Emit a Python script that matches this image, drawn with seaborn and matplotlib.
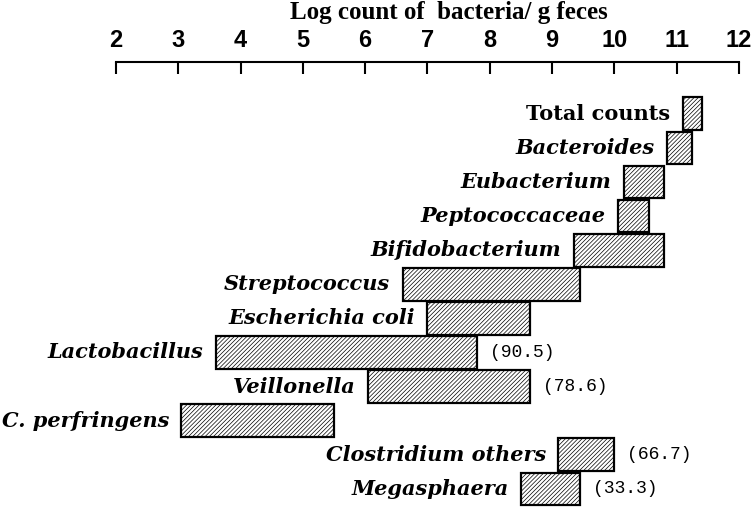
import matplotlib
matplotlib.use('Agg')
import matplotlib.pyplot as plt
import seaborn as sns
import pandas as pd

groups = ['Total counts', 'Bacteroides', 'Eubacterium', 'Peptococcaceae',
          'Bifidobacterium', 'Streptococcus', 'Escherichia coli', 'Lactobacillus',
          'Veillonella', 'C. perfringens', 'Clostridium others', 'Megasphaera']
low = [11.1, 10.85, 10.15, 10.05, 9.35, 6.6, 7.0, 3.6, 6.05, 3.05, 9.1, 8.5]
high = [11.4, 11.25, 10.8, 10.55, 10.8, 9.45, 8.65, 7.8, 8.65, 5.5, 10.0, 9.45]
detection = ['', '', '', '', '', '', '', '(90.5)', '(78.6)', '', '(66.7)', '(33.3)']
xticks = [2, 3, 4, 5, 6, 7, 8, 9, 10, 11, 12]

df = pd.DataFrame({'group': groups, 'low': low, 'high': high})
df['span'] = df['high'] - df['low']

sns.set_style('white')
plt.rcParams['hatch.linewidth'] = 0.5
plt.rcParams['text.color'] = 'black'
plt.rcParams['xtick.color'] = 'black'
plt.rcParams['axes.edgecolor'] = 'black'

fig = plt.figure(figsize=(7.56, 5.08), dpi=100)
ax = fig.add_axes([0.1534, 0.0, 0.8241, 0.8774])

sns.barplot(data=df, x='span', y='group', order=groups, orient='h',
            left=df['low'].tolist(), width=0.96, color='white', saturation=1,
            edgecolor='black', linewidth=1.6, hatch='////////', errorbar=None, ax=ax)

# names to the left of each bar, detection rates to the right
for i, name in enumerate(groups):
    style = 'normal' if name == 'Total counts' else 'italic'
    ax.annotate(name, xy=(low[i], i), xytext=(-9, 0), textcoords='offset points',
                ha='right', va='center', fontsize=15, fontweight='bold',
                fontstyle=style, fontfamily='DejaVu Serif', color='black')
    if detection[i]:
        ax.annotate(detection[i], xy=(high[i], i), xytext=(9, 0), textcoords='offset points',
                    ha='left', va='center', fontsize=13, fontfamily='Liberation Mono',
                    color='black')

ax.set_xlim(2, 12)
ax.set_ylim(11.56, -1.51)
ax.set_xticks(xticks)
ax.xaxis.tick_top()
ax.tick_params(axis='x', direction='in', length=8.6, width=1.5, pad=7.5,
               labelsize=17, top=True, bottom=False, colors='black')
for lab in ax.get_xticklabels():
    lab.set_fontweight('bold')
    lab.set_fontfamily('Liberation Sans')
ax.set_yticks([])
ax.set_xlabel('')
ax.set_ylabel('')
for side in ['left', 'right', 'bottom']:
    ax.spines[side].set_visible(False)
ax.spines['top'].set_linewidth(1.5)

fig.text(0.594, 1 - 12 / 508, 'Log count of  bacteria/ g feces', ha='center', va='center',
         fontsize=18, fontweight='bold', fontfamily='Liberation Serif', color='black')

plt.savefig('out.png', dpi=100)
